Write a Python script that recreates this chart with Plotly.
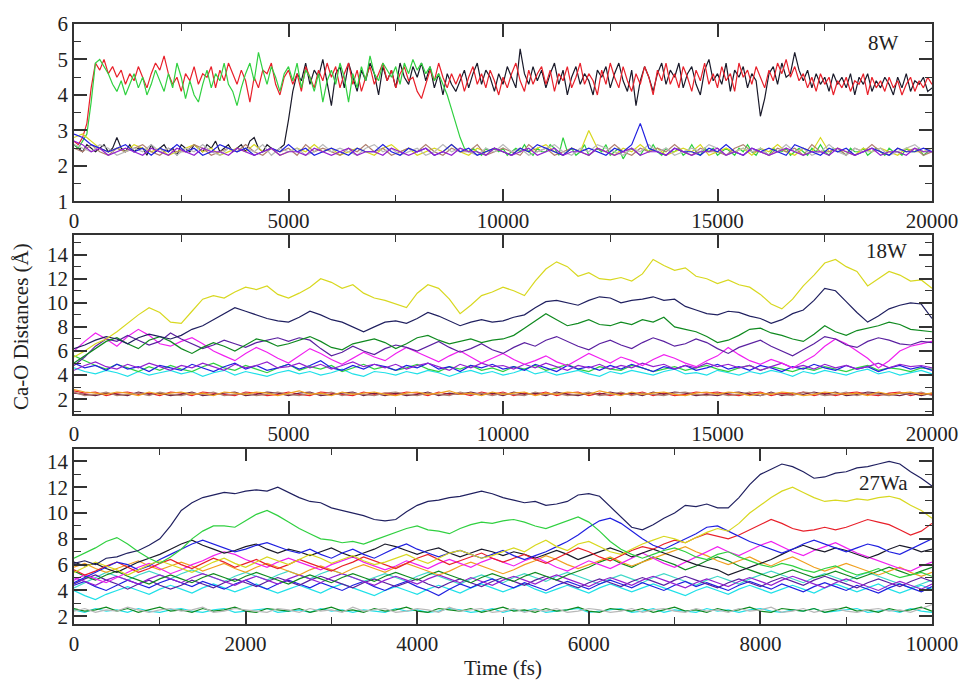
import plotly.graph_objects as go

# ---------------- time grids (fs) ----------------
t1_fine = list(range(0, 20001, 100))
t1_coarse = list(range(0, 20001, 200))
t2 = list(range(0, 20001, 250))
t3 = list(range(0, 10001, 125))

# ---------------- Panel 1: 8W ----------------
p1_black = [2.6,2.5,2.4,2.6,2.5,2.4,2.5,2.6,2.4,2.5,
            2.8,2.5,2.4,2.6,2.4,2.5,2.5,2.3,2.6,2.4,
            2.5,2.6,2.4,2.5,2.3,2.6,2.5,2.4,2.6,2.5,
            2.4,2.6,2.5,2.7,2.4,2.5,2.6,2.4,2.5,2.6,
            2.4,2.7,2.8,2.5,2.4,2.6,2.5,2.4,2.5,2.6,
            3.3,4.1,4.6,4.4,4.9,4.3,4.7,4.5,5.0,4.4,
            3.7,4.6,4.8,4.2,4.9,4.5,4.1,4.7,4.4,4.9,
            4.6,4.0,4.8,4.4,4.7,4.2,4.9,4.5,4.3,4.8,
            4.5,4.9,4.4,4.8,4.2,4.6,4.0,4.6,4.3,4.1,
            4.4,4.7,4.2,4.6,4.9,4.3,4.7,4.5,4.1,4.6,
            4.3,4.8,4.5,4.2,5.3,4.6,4.3,4.8,4.4,4.7,
            4.2,4.6,4.9,4.3,4.7,4.0,4.5,4.8,4.3,4.6,
            4.4,4.0,4.7,4.5,4.8,4.2,4.6,4.9,4.4,4.1,
            4.7,3.7,4.4,4.8,4.5,4.1,4.6,4.9,4.3,4.7,
            4.5,4.9,4.2,4.6,4.8,4.3,4.0,4.7,5.0,4.4,
            4.6,4.3,4.9,4.1,4.7,4.5,4.8,4.2,4.6,4.4,
            3.4,3.9,4.6,4.8,4.3,4.9,4.5,4.6,5.2,4.7,
            4.4,4.7,4.2,4.6,4.3,4.5,4.1,4.6,4.3,4.5,
            4.2,4.6,4.0,4.5,4.3,4.6,4.1,4.4,4.2,4.5,
            4.3,4.0,4.5,4.2,4.6,4.1,4.4,4.3,4.5,4.1,4.2]
p1_red = [2.7,2.6,2.8,3.2,4.2,4.9,4.7,5.0,4.6,4.8,
          4.5,4.7,4.3,4.6,4.4,4.8,4.5,4.2,4.6,4.9,
          4.7,5.1,4.6,4.3,4.5,4.1,4.6,4.4,4.8,4.3,
          4.6,4.5,4.8,4.2,4.7,4.4,4.9,4.6,4.3,4.7,
          4.4,3.8,4.5,4.2,4.7,4.6,4.9,4.3,4.0,4.5,
          4.7,4.3,4.6,4.1,4.8,4.5,4.2,4.7,4.4,4.9,
          4.5,4.8,4.2,4.6,4.9,4.3,4.7,4.1,4.5,4.8,
          4.3,4.6,4.9,4.4,4.7,4.2,4.6,4.8,4.4,4.5,
          4.1,3.9,4.3,4.7,4.4,4.9,4.5,4.2,4.6,4.3,
          4.6,4.1,4.5,4.8,4.3,4.6,4.2,4.7,4.4,4.0,
          4.5,4.2,4.6,4.9,4.4,4.1,4.7,4.3,4.6,4.8,
          4.3,4.7,4.1,4.6,4.4,4.8,4.2,4.5,4.9,4.3,
          4.6,4.4,4.0,4.7,4.3,4.9,4.5,4.2,4.8,4.4,
          4.1,4.6,4.3,4.8,4.5,4.0,4.7,4.4,4.9,4.3,
          4.6,4.2,4.8,4.5,4.1,4.7,4.4,4.9,4.3,4.6,
          4.2,4.8,4.4,4.6,4.1,4.9,4.5,4.7,4.3,4.8,
          4.5,4.2,4.7,4.4,4.9,4.6,5.0,4.5,4.8,4.4,
          4.6,4.2,4.5,4.1,4.6,4.3,4.5,4.0,4.4,4.2,
          4.5,4.1,4.4,4.3,4.6,4.0,4.5,4.2,4.4,4.1,
          4.5,4.2,4.4,4.0,4.3,4.5,4.1,4.4,4.2,4.5,4.3]
p1_green = [2.6,2.5,2.7,2.9,3.8,4.9,5.0,4.8,4.6,4.3,
            4.1,4.4,4.0,4.3,4.6,4.2,4.5,4.0,4.3,4.7,
            4.4,4.1,4.6,4.2,4.9,4.5,3.9,4.4,4.0,3.8,
            4.3,4.7,4.2,4.6,4.4,4.9,4.3,4.1,3.7,4.2,
            4.6,4.9,4.4,5.2,4.7,4.3,4.8,4.5,4.1,4.6,
            4.8,4.4,4.9,4.2,4.7,4.5,4.1,4.6,3.8,4.4,
            4.7,4.3,4.9,4.5,3.8,4.6,4.2,4.8,4.4,5.1,
            4.6,4.4,4.9,4.7,4.5,4.8,4.3,4.9,4.6,5.0,
            4.7,4.9,4.6,4.8,4.4,4.6,4.3,4.0,3.6,3.2,
            2.8,2.5,2.4,2.5,2.4,2.3,2.5,2.4,2.5,2.4,
            2.5,2.3,2.4,2.5,2.4,2.6,2.4,2.3,2.5,2.4,
            2.4,2.6,2.5,2.3,2.8,2.4,2.5,2.3,2.4,2.6,
            2.3,2.4,2.5,2.4,2.6,2.3,2.4,2.5,2.2,2.4,
            2.5,2.4,2.3,2.5,2.4,2.6,2.4,2.3,2.5,2.4,
            2.4,2.5,2.3,2.4,2.6,2.4,2.3,2.5,2.4,2.5,
            2.3,2.4,2.5,2.4,2.3,2.5,2.4,2.6,2.4,2.3,
            2.5,2.4,2.3,2.5,2.4,2.4,2.5,2.3,2.4,2.5,
            2.4,2.3,2.5,2.4,2.6,2.4,2.3,2.5,2.4,2.4,
            2.3,2.5,2.4,2.4,2.5,2.3,2.4,2.5,2.4,2.3,
            2.5,2.4,2.4,2.3,2.5,2.4,2.4,2.5,2.3,2.4,2.4]
p1_blue = [2.9,2.8,2.6,2.5,2.4,2.5,2.6,2.4,2.5,2.3,
           2.5,2.4,2.6,2.4,2.5,2.3,2.4,2.6,2.5,2.4,
           2.5,2.3,2.4,2.5,2.4,2.6,2.4,2.5,2.3,2.4,
           2.5,2.4,2.3,2.5,2.4,2.4,2.6,2.4,2.3,2.5,
           2.4,2.5,2.3,2.4,2.6,2.4,2.5,2.3,2.4,2.5,
           2.4,2.3,2.5,2.4,2.6,2.5,2.4,2.3,2.5,2.4,
           2.5,2.4,2.3,2.5,2.4,2.6,3.2,2.5,2.4,2.3,
           2.5,2.4,2.4,2.3,2.5,2.4,2.6,2.4,2.3,2.5,
           2.4,2.5,2.4,2.3,2.6,2.5,2.4,2.3,2.5,2.4,
           2.5,2.3,2.4,2.5,2.4,2.3,2.5,2.4,2.4,2.5,2.4]
p1_yellow = [2.8,2.9,2.7,2.5,2.4,2.5,2.4,2.6,2.5,2.4,
             2.5,2.3,2.4,2.5,2.6,2.4,2.5,2.3,2.4,2.5,
             2.4,2.6,2.4,2.5,2.3,2.4,2.5,2.4,2.6,2.4,
             2.5,2.3,2.4,2.5,2.4,2.3,2.5,2.6,2.4,2.5,
             2.3,2.4,2.5,2.4,2.6,2.4,2.3,2.5,2.4,2.5,
             2.4,2.3,2.5,2.4,2.5,2.6,2.4,2.3,2.5,2.4,
             3.0,2.5,2.4,2.3,2.5,2.4,2.6,2.4,2.5,2.3,
             2.4,2.5,2.4,2.6,2.3,2.4,2.5,2.4,2.5,2.3,
             2.5,2.4,2.6,2.4,2.3,2.5,2.4,2.8,2.4,2.5,
             2.4,2.3,2.5,2.4,2.5,2.4,2.3,2.5,2.4,2.4,2.5]
p1_brown = [2.5,2.4,2.6,2.4,2.3,2.5,2.4,2.5,2.6,2.4,
            2.3,2.5,2.4,2.4,2.6,2.5,2.3,2.4,2.5,2.4,
            2.6,2.4,2.3,2.5,2.4,2.5,2.3,2.6,2.4,2.5,
            2.4,2.3,2.5,2.4,2.6,2.4,2.5,2.3,2.4,2.5,
            2.4,2.6,2.4,2.3,2.5,2.4,2.4,2.6,2.3,2.4,
            2.5,2.4,2.3,2.6,2.4,2.5,2.3,2.4,2.5,2.4,
            2.3,2.5,2.4,2.6,2.4,2.3,2.5,2.4,2.5,2.4,
            2.6,2.4,2.3,2.5,2.4,2.4,2.3,2.5,2.6,2.4,
            2.4,2.3,2.5,2.4,2.5,2.3,2.6,2.4,2.4,2.5,
            2.3,2.5,2.4,2.6,2.4,2.3,2.5,2.4,2.5,2.3,2.4]
p1_grey = [2.6,2.5,2.4,2.6,2.5,2.3,2.4,2.5,2.4,2.6,
           2.4,2.5,2.3,2.5,2.4,2.6,2.4,2.3,2.5,2.4,
           2.5,2.4,2.6,2.3,2.5,2.4,2.5,2.3,2.4,2.6,
           2.4,2.5,2.4,2.3,2.5,2.6,2.4,2.5,2.3,2.4,
           2.5,2.3,2.4,2.6,2.4,2.5,2.4,2.3,2.5,2.4,
           2.6,2.4,2.5,2.3,2.4,2.5,2.6,2.4,2.3,2.5,
           2.4,2.6,2.5,2.4,2.3,2.5,2.4,2.6,2.4,2.5,
           2.3,2.4,2.5,2.4,2.6,2.5,2.3,2.4,2.5,2.4,
           2.5,2.3,2.4,2.6,2.4,2.5,2.3,2.4,2.6,2.4,
           2.3,2.5,2.4,2.4,2.5,2.3,2.4,2.5,2.6,2.4,2.5]
p1_violet = [2.7,2.6,2.4,2.5,2.3,2.4,2.5,2.4,2.3,2.5,
             2.4,2.3,2.5,2.4,2.3,2.5,2.4,2.4,2.3,2.5,
             2.4,2.3,2.4,2.5,2.3,2.4,2.4,2.3,2.5,2.4,
             2.3,2.4,2.5,2.3,2.4,2.4,2.3,2.5,2.4,2.3,
             2.4,2.5,2.3,2.4,2.3,2.5,2.4,2.4,2.3,2.5,
             2.4,2.3,2.4,2.5,2.3,2.4,2.5,2.3,2.4,2.4,
             2.3,2.5,2.4,2.3,2.4,2.5,2.3,2.4,2.4,2.3,
             2.5,2.4,2.3,2.4,2.4,2.5,2.3,2.4,2.3,2.5,
             2.4,2.3,2.4,2.5,2.4,2.3,2.4,2.4,2.3,2.5,
             2.4,2.3,2.4,2.5,2.3,2.4,2.4,2.3,2.5,2.4,2.4]

# ---------------- Panel 2: 18W ----------------
p2_yellow = [5.5,6.0,6.6,7.0,7.6,8.3,9.0,9.6,9.2,8.4,
             8.3,9.3,10.3,10.6,10.4,10.9,11.3,11.1,11.4,10.7,
             10.4,10.8,11.3,12.0,11.7,11.2,11.5,10.8,10.4,10.2,
             9.9,9.6,10.8,11.5,11.2,10.3,9.1,9.8,10.6,10.9,
             11.3,11.0,10.6,11.8,12.8,13.4,13.0,12.2,12.5,12.0,
             11.9,12.1,11.8,12.4,13.6,13.1,12.7,12.9,12.2,12.0,
             11.6,11.9,11.5,11.3,10.7,9.9,9.5,10.3,11.4,12.3,
             13.3,13.6,13.0,12.6,11.4,12.0,12.6,12.3,11.8,11.9,
             11.2]
p2_black = [6.2,6.5,6.9,7.2,7.0,6.6,7.1,7.4,7.2,7.0,
            7.3,7.8,8.1,8.6,9.1,9.6,9.3,9.0,8.7,8.5,
            8.4,8.8,9.3,9.0,8.6,8.4,8.0,7.6,8.0,8.4,
            8.5,8.3,8.7,9.2,8.9,8.5,8.1,8.4,8.6,8.4,
            8.5,8.8,9.0,9.6,10.1,10.2,10.0,9.8,10.2,10.5,
            10.4,10.0,10.2,10.3,10.5,10.2,10.3,9.7,9.4,9.1,
            9.0,9.3,9.2,8.9,8.7,8.3,8.6,9.1,9.4,10.2,
            11.2,11.0,10.1,9.2,8.4,8.9,9.5,9.8,10.0,9.9,
            8.7]
p2_green4 = [5.0,5.6,6.2,6.8,7.1,6.6,6.2,6.9,7.2,6.8,
             6.2,5.8,6.3,6.7,6.4,6.0,6.5,7.0,6.8,6.4,
             6.6,6.9,7.2,6.8,6.3,6.1,6.6,6.8,7.0,6.7,
             6.2,6.6,7.1,7.3,6.9,6.6,6.8,7.0,6.7,6.9,
             7.0,7.3,7.9,8.5,9.1,8.6,8.1,8.3,8.6,8.2,
             8.1,8.4,8.2,8.6,8.4,8.8,8.0,7.8,7.6,7.2,
             6.7,6.9,7.3,7.8,7.9,7.5,7.3,7.0,6.8,7.4,
             8.1,7.6,7.3,7.7,7.9,8.1,8.4,8.2,7.8,7.7,
             7.6]
p2_indigo = [4.8,5.5,6.4,7.0,6.8,7.3,6.9,6.5,6.8,7.5,
             7.0,6.6,6.2,6.5,6.9,6.6,6.3,6.7,6.9,7.1,
             6.8,7.1,6.9,6.2,5.6,5.9,6.4,6.0,5.7,6.2,
             6.5,6.3,6.0,6.4,6.8,6.3,5.9,6.2,6.6,6.1,
             5.8,6.3,6.7,6.4,6.9,7.2,6.8,6.4,6.1,6.6,
             6.9,6.5,6.2,6.7,7.1,6.8,6.4,6.6,7.0,6.7,
             6.2,5.8,6.3,6.6,6.9,6.4,6.0,5.6,6.1,6.6,
             7.2,7.0,6.5,6.3,6.8,7.1,6.9,6.6,6.5,6.8,
             6.7]
p2_magenta = [6.0,6.8,7.5,7.0,6.4,7.2,7.8,7.3,6.6,6.4,
              6.8,7.1,6.6,6.0,5.6,5.2,5.8,6.3,5.9,5.4,
              5.0,5.6,6.2,5.8,5.3,4.9,5.4,5.9,5.5,5.2,
              5.8,6.3,5.9,5.5,5.1,5.6,6.0,5.5,5.0,5.4,
              5.8,5.3,4.9,5.2,5.6,5.1,4.8,5.3,5.8,5.4,
              5.0,5.5,5.2,4.8,5.3,5.7,5.4,5.0,4.7,5.2,
              5.6,6.3,5.7,5.2,4.9,5.3,5.0,4.6,5.1,5.6,
              6.4,7.0,6.6,6.0,5.4,4.6,5.2,6.0,6.4,6.6,
              6.8]
p2_blue = [5.0,4.6,4.8,4.4,4.9,4.5,4.7,4.3,4.8,4.6,
           4.4,4.9,4.6,4.3,4.7,5.0,4.5,4.8,4.4,4.6,
           4.9,4.5,4.8,5.2,4.6,4.4,4.8,4.5,4.9,4.7,
           4.4,4.8,4.6,5.0,4.5,4.7,4.3,4.8,4.6,4.9,
           4.5,4.7,4.4,4.9,4.6,4.3,4.8,4.5,4.7,4.4,
           4.8,4.5,4.9,4.6,4.3,4.7,4.5,4.8,4.4,4.6,
           4.9,4.5,4.7,4.4,4.8,4.6,4.3,4.7,4.5,4.9,
           4.6,4.4,4.8,4.5,4.7,4.3,4.6,4.8,4.5,4.7,
           4.4]
p2_cyan = [4.6,4.3,4.1,4.4,4.2,3.9,4.3,4.0,4.2,4.4,
           4.1,4.3,3.9,4.2,4.4,4.0,4.3,4.1,3.9,4.2,
           4.4,4.1,4.3,4.0,4.2,4.5,4.1,3.9,4.3,4.2,
           4.0,4.3,4.1,4.4,4.2,3.9,4.2,4.4,4.1,4.3,
           4.0,4.2,4.5,4.1,4.3,4.0,4.2,4.4,4.1,3.9,
           4.3,4.1,4.4,4.2,4.0,4.3,4.5,4.1,4.2,4.0,
           4.4,4.2,4.0,4.3,4.1,4.4,4.2,3.9,4.3,4.1,
           4.4,4.2,4.0,4.3,4.5,4.1,4.3,4.0,4.2,4.4,
           4.1]
p2_violet = [4.4,4.8,5.1,4.7,4.5,4.9,4.6,5.0,4.7,4.4,
             4.8,4.6,5.0,4.7,4.4,4.9,4.6,4.8,5.1,4.6,
             4.7,5.0,4.6,4.9,4.5,4.8,5.1,4.7,4.9,4.6,
             4.9,4.5,4.8,5.0,4.7,4.4,4.9,4.6,5.0,4.7,
             4.8,4.5,4.9,4.6,5.0,4.7,4.4,4.8,4.6,4.9,
             4.5,4.8,4.6,5.0,4.7,4.9,4.5,4.8,4.6,5.0,
             4.7,4.9,4.6,4.8,4.4,4.7,5.0,4.6,4.8,4.5,
             4.9,4.6,4.8,4.5,4.7,5.0,4.6,4.9,4.7,4.8,
             4.6]
p2_green = [5.6,5.2,4.8,4.5,4.9,4.6,4.3,4.7,4.4,4.8,
            4.5,4.3,4.7,5.0,4.6,4.4,4.8,4.5,4.2,4.6,
            4.9,4.4,4.7,4.5,4.8,4.3,4.6,4.9,4.5,4.7,
            4.4,4.6,4.9,4.5,4.3,4.7,4.5,4.8,4.4,4.6,
            4.3,4.7,4.5,4.8,4.4,4.6,4.9,4.5,4.3,4.7,
            4.5,4.4,4.8,4.6,4.3,4.5,4.7,4.4,4.6,4.8,
            4.5,4.3,4.6,4.8,4.4,4.7,4.5,4.3,4.6,4.4,
            4.7,4.5,4.3,4.6,4.8,4.4,4.6,4.5,4.3,4.6,
            4.5]
p2_orange = [2.8,2.6,2.5,2.4,2.6,2.5,2.3,2.6,2.4,2.5,
             2.6,2.4,2.5,2.3,2.6,2.5,2.4,2.6,2.5,2.3,
             2.5,2.7,2.4,2.5,2.3,2.6,2.4,2.5,2.6,2.4,
             2.3,2.5,2.6,2.4,2.5,2.7,2.4,2.5,2.3,2.6,
             2.4,2.5,2.6,2.3,2.5,2.4,2.6,2.5,2.4,2.7,
             2.5,2.3,2.6,2.4,2.5,2.6,2.4,2.3,2.5,2.6,
             2.4,2.6,2.5,2.3,2.5,2.4,2.6,2.5,2.3,2.4,
             2.6,2.5,2.4,2.5,2.3,2.6,2.4,2.5,2.6,2.4,
             2.5]
p2_brown = [2.6,2.3,2.4,2.6,2.3,2.4,2.5,2.3,2.6,2.4,
            2.3,2.5,2.4,2.6,2.3,2.4,2.5,2.3,2.4,2.6,
            2.4,2.3,2.5,2.4,2.6,2.3,2.5,2.4,2.3,2.5,
            2.6,2.4,2.3,2.5,2.4,2.3,2.6,2.4,2.5,2.3,
            2.5,2.4,2.3,2.6,2.4,2.5,2.3,2.4,2.6,2.3,
            2.4,2.6,2.3,2.5,2.4,2.3,2.5,2.6,2.4,2.3,
            2.5,2.3,2.4,2.6,2.3,2.5,2.4,2.3,2.6,2.5,
            2.3,2.4,2.6,2.3,2.5,2.4,2.3,2.5,2.4,2.6,
            2.3]
p2_red = [2.7,2.5,2.6,2.3,2.5,2.6,2.4,2.5,2.3,2.6,
          2.5,2.3,2.6,2.5,2.4,2.3,2.6,2.5,2.3,2.4,
          2.6,2.4,2.3,2.6,2.5,2.4,2.3,2.6,2.4,2.5,
          2.4,2.6,2.5,2.3,2.6,2.4,2.5,2.3,2.6,2.4,
          2.6,2.3,2.5,2.4,2.6,2.3,2.5,2.6,2.3,2.5,
          2.3,2.5,2.4,2.6,2.3,2.5,2.3,2.4,2.6,2.5,
          2.6,2.4,2.3,2.5,2.6,2.3,2.5,2.4,2.6,2.3,
          2.5,2.3,2.5,2.6,2.4,2.3,2.5,2.6,2.3,2.5,
          2.4]
p2_maroon = [2.5,2.4,2.3,2.5,2.4,2.3,2.6,2.4,2.5,2.3,
             2.4,2.6,2.3,2.4,2.5,2.6,2.3,2.4,2.6,2.5,
             2.3,2.5,2.6,2.3,2.4,2.5,2.6,2.3,2.5,2.3,
             2.5,2.3,2.4,2.6,2.3,2.5,2.4,2.6,2.4,2.5,
             2.3,2.6,2.4,2.5,2.3,2.6,2.4,2.3,2.5,2.4,
             2.6,2.4,2.5,2.3,2.6,2.4,2.6,2.5,2.3,2.4,
             2.3,2.5,2.6,2.4,2.3,2.6,2.3,2.5,2.4,2.6,
             2.4,2.6,2.3,2.4,2.6,2.5,2.4,2.3,2.5,2.3,
             2.5]

# ---------------- Panel 3: 27Wa ----------------
p3_navy = [6.1,6.3,6.0,6.5,6.6,6.9,7.1,7.5,8.0,9.0,
           10.2,10.8,11.2,11.4,11.6,11.5,11.7,11.8,11.7,12.0,
           11.6,11.2,10.9,10.8,10.4,10.2,10.0,9.8,9.5,9.4,
           9.5,10.1,10.6,10.9,11.0,11.2,11.3,11.5,11.7,11.5,
           11.2,11.0,10.8,10.9,10.6,10.7,10.9,11.4,11.5,11.3,
           10.5,9.7,8.9,8.7,9.1,9.6,10.0,10.6,10.5,10.7,
           10.4,10.4,11.2,12.2,13.0,13.4,13.8,13.6,13.2,12.7,
           12.8,13.1,13.2,13.5,13.6,13.8,14.0,13.8,13.2,12.7,
           12.1]
p3_green = [6.5,6.9,7.3,7.8,8.1,7.6,7.0,6.5,6.1,6.6,
            7.2,8.0,8.6,9.0,9.0,8.9,9.4,9.9,10.2,9.8,
            9.3,8.8,8.4,8.0,7.9,7.7,7.8,7.6,7.9,8.2,
            8.5,8.8,9.0,8.7,8.6,8.4,8.8,9.1,9.3,9.2,
            9.4,9.5,9.3,9.0,8.8,9.1,9.4,9.7,9.3,8.6,
            7.8,7.2,6.8,6.5,6.8,7.1,7.3,7.0,6.6,6.4,
            6.8,7.0,6.6,6.3,6.0,5.8,6.1,5.9,5.6,5.4,
            5.7,5.9,5.5,5.2,5.4,5.7,5.3,5.0,5.2,5.4,
            5.1]
p3_yellow = [5.4,5.8,6.2,5.9,5.6,5.2,5.6,6.0,6.3,6.0,
             5.7,5.4,5.8,6.2,6.5,6.1,5.8,6.2,6.6,6.3,
             6.0,6.4,6.8,6.5,6.1,6.4,6.7,6.3,6.0,6.2,
             6.5,6.8,6.4,6.1,6.5,6.9,7.1,6.8,6.5,6.7,
             7.0,7.3,7.0,7.5,7.9,7.4,7.1,7.6,7.8,7.4,
             7.0,6.8,7.2,7.6,7.9,8.2,8.0,7.7,8.1,8.5,
             8.8,8.6,9.2,10.0,10.6,11.2,11.7,12.0,11.6,11.2,
             10.9,11.0,10.9,11.1,11.0,11.2,11.3,11.1,10.6,10.2,
             9.6]
p3_red = [5.6,5.2,5.5,5.9,6.2,5.8,5.4,5.7,6.1,6.4,
          6.0,5.7,6.1,6.5,6.2,5.8,6.1,6.4,6.0,5.7,
          6.0,6.4,6.1,5.8,5.5,5.9,6.2,6.6,6.3,6.0,
          5.7,6.1,6.5,6.8,6.4,6.0,6.3,6.6,6.9,6.5,
          6.2,6.5,6.8,6.4,6.1,6.5,6.9,7.3,7.0,6.6,
          6.3,6.7,7.1,7.4,7.2,7.6,7.9,7.7,8.1,8.4,
          8.2,8.0,8.3,8.7,9.1,9.5,9.2,8.8,8.6,8.7,
          8.9,8.7,8.9,9.2,9.5,9.3,9.1,8.7,8.3,8.6,
          9.2]
p3_blue2 = [4.6,5.0,5.4,5.8,6.2,6.0,5.6,5.9,6.4,6.8,
            7.2,7.6,7.9,7.6,7.3,7.0,7.2,7.5,7.7,7.4,
            7.1,6.9,7.2,6.8,6.5,6.9,7.2,6.8,6.5,6.9,
            7.3,7.6,7.2,6.9,6.6,6.9,7.1,6.8,6.5,6.8,
            7.1,6.7,6.4,6.7,7.0,7.4,7.8,8.3,8.9,9.4,
            9.6,9.2,8.6,8.0,7.5,7.2,7.6,8.0,8.4,8.9,
            9.0,8.6,8.2,7.8,7.5,7.2,6.9,7.2,7.6,7.9,
            7.6,7.3,7.0,7.3,7.6,7.4,7.0,6.8,7.2,7.6,
            8.0]
p3_black = [6.2,5.9,6.1,5.7,5.4,5.8,6.2,6.5,6.8,7.2,
            7.6,7.9,7.5,7.2,6.9,7.1,7.4,7.6,7.2,6.9,
            7.2,7.0,6.7,7.0,7.3,6.9,6.6,6.9,7.2,7.6,
            7.4,7.1,6.8,7.1,7.3,6.9,6.6,6.9,7.2,7.0,
            6.7,7.0,6.8,6.5,6.8,7.1,6.8,6.4,6.7,7.0,
            7.3,7.0,6.6,6.9,7.2,6.9,6.6,6.3,6.0,5.8,
            5.6,5.2,5.5,5.8,6.1,6.4,6.8,7.2,7.5,7.2,
            7.0,7.3,7.1,6.8,6.5,6.8,7.2,7.5,7.3,7.0,
            7.2]
p3_magenta = [4.8,5.2,4.9,4.6,5.0,5.4,5.8,6.1,5.7,5.3,
              5.6,6.0,6.3,6.7,7.0,6.8,6.4,6.1,5.8,6.2,
              6.5,6.2,5.9,5.6,6.0,6.3,6.6,6.2,5.9,5.6,
              5.9,6.3,6.0,5.7,6.1,6.4,6.1,5.8,6.2,6.5,
              6.2,5.9,6.3,6.6,6.2,5.8,5.5,5.9,6.3,6.0,
              5.7,6.1,6.5,6.9,6.5,6.1,5.8,6.2,6.6,7.0,
              7.4,7.0,6.7,7.1,7.5,7.8,7.4,7.0,6.7,7.1,
              7.4,7.7,7.3,6.9,6.6,6.3,6.0,5.7,5.5,5.9,
              6.2]
p3_orange = [5.8,6.1,5.7,5.4,5.7,6.0,6.3,5.9,5.6,5.9,
             6.2,5.9,5.5,5.8,6.1,5.7,5.4,5.8,6.1,5.8,
             5.5,5.2,5.6,5.9,5.6,5.3,5.7,6.0,5.7,5.4,
             5.8,6.1,5.8,5.5,5.2,5.5,5.9,6.2,5.9,5.6,
             5.3,5.6,6.0,6.3,6.7,6.4,6.0,5.7,6.0,6.3,
             6.6,6.2,5.9,6.2,6.5,6.8,7.1,7.4,7.0,6.7,
             6.3,6.0,6.3,6.6,6.2,5.9,6.3,6.6,6.2,5.8,
             5.5,5.8,6.1,5.8,5.5,5.2,5.5,5.8,5.4,5.1,
             5.4]
p3_violet = [5.0,4.7,4.4,4.8,5.1,4.8,4.5,4.9,5.2,4.9,
             4.6,5.0,5.3,5.0,4.7,4.4,4.8,5.1,4.8,4.5,
             4.9,5.2,4.9,4.6,5.0,5.3,5.0,4.7,4.4,4.8,
             5.1,4.8,4.5,4.9,5.2,4.9,4.6,5.0,4.7,4.4,
             4.8,5.1,4.8,4.5,4.9,5.2,4.9,4.6,4.3,4.7,
             5.0,4.7,4.4,4.8,5.1,4.8,4.5,4.2,4.6,4.9,
             4.6,4.3,4.7,5.0,4.7,4.4,4.8,5.1,4.8,4.5,
             4.2,4.6,4.9,4.6,4.3,4.0,4.4,4.7,4.4,4.1,
             4.5]
p3_blue = [4.4,4.7,4.3,4.0,4.4,4.8,4.5,4.2,4.6,4.9,
           4.6,4.3,4.7,4.4,4.1,4.5,4.8,4.4,4.1,4.5,
           4.8,4.5,4.2,4.6,4.3,4.0,4.4,4.7,4.3,4.0,
           4.4,4.7,4.3,4.0,3.6,4.1,4.5,4.2,4.6,4.9,
           4.5,4.2,4.6,4.3,4.0,4.4,4.7,4.4,4.1,4.5,
           4.8,4.5,4.2,4.6,4.3,4.0,4.4,4.7,4.3,4.6,
           4.3,4.0,4.4,4.7,4.4,4.1,4.5,4.2,3.9,4.3,
           4.6,4.3,4.0,4.4,4.1,3.8,4.2,4.5,4.2,3.9,
           4.3]
p3_cyan = [4.0,3.6,3.3,3.7,4.0,4.3,4.0,3.7,4.1,4.4,
           4.1,3.8,4.2,4.5,4.2,3.9,4.2,4.5,4.1,3.8,
           4.1,4.4,4.1,3.8,4.2,4.5,4.2,3.9,3.6,4.0,
           4.3,4.0,3.7,4.1,4.4,4.1,3.8,4.2,4.5,4.2,
           3.9,4.2,4.5,4.1,3.8,4.1,4.4,4.1,3.8,4.2,
           4.5,4.2,3.9,4.2,4.5,4.2,3.9,3.6,4.0,4.3,
           4.0,3.7,4.1,4.4,4.1,3.8,4.1,4.4,4.1,3.8,
           4.2,4.5,4.2,3.9,4.2,4.5,4.1,3.8,4.1,4.4,
           4.1]
p3_green4 = [5.5,5.1,4.8,5.2,5.5,5.1,4.8,4.5,4.9,5.2,
             4.9,4.6,5.0,5.3,5.0,4.7,5.1,5.4,5.1,4.8,
             4.5,4.9,5.2,4.9,4.6,5.0,5.3,5.0,4.7,5.1,
             5.4,5.1,4.8,5.2,5.5,5.2,4.9,4.6,5.0,5.3,
             5.0,4.7,5.1,5.4,5.1,4.8,5.2,5.5,5.8,6.2,
             6.5,6.1,5.8,6.2,6.6,6.3,6.0,5.6,5.9,6.3,
             6.6,6.3,5.9,5.6,5.3,5.0,5.3,5.6,5.3,5.0,
             5.2,5.5,5.2,4.9,5.2,5.5,5.8,5.5,5.2,5.5,
             5.8]
p3_indigo = [4.5,4.9,5.2,4.8,4.5,4.1,4.5,4.8,4.4,4.1,
             4.4,4.8,4.5,4.2,4.6,4.9,4.6,4.3,4.7,5.0,
             4.7,4.4,4.8,5.1,4.8,4.5,4.2,4.6,4.9,4.6,
             4.3,4.6,4.9,4.5,4.2,4.6,4.9,4.6,4.3,4.7,
             5.0,4.7,4.4,4.8,5.1,4.8,4.5,4.2,4.6,4.9,
             4.6,4.3,4.7,5.0,4.7,4.4,4.8,5.1,4.8,4.5,
             4.2,4.6,4.9,4.6,4.3,4.7,5.0,4.7,4.4,4.8,
             5.1,4.8,4.5,4.2,4.6,4.9,4.6,4.3,4.7,5.0,
             4.7]
p3_turquoise = [4.2,4.6,5.0,5.4,5.1,4.8,5.2,5.5,5.2,4.9,
                5.3,5.6,5.3,5.0,4.7,5.1,5.4,5.1,4.8,5.2,
                5.5,5.2,4.9,5.3,5.6,5.3,5.0,4.7,5.0,5.3,
                5.0,4.7,5.1,5.4,5.1,4.8,4.5,4.9,5.2,4.9,
                4.6,5.0,5.3,5.0,4.7,5.1,5.4,5.1,4.8,4.5,
                4.9,5.2,4.9,4.6,5.0,5.3,5.0,4.7,4.4,4.8,
                5.1,4.8,4.5,4.9,5.2,5.5,5.2,4.9,4.6,5.0,
                5.3,5.0,4.7,5.1,5.4,5.1,4.8,4.5,4.2,4.5,
                4.8]
p3_lowgreen = [2.6,2.4,2.5,2.7,2.4,2.6,2.3,2.5,2.7,2.4,
               2.5,2.3,2.6,2.4,2.5,2.7,2.4,2.3,2.6,2.5,
               2.4,2.6,2.3,2.5,2.7,2.4,2.5,2.3,2.6,2.4,
               2.5,2.7,2.4,2.3,2.6,2.5,2.4,2.6,2.3,2.5,
               2.7,2.4,2.5,2.3,2.6,2.4,2.5,2.7,2.4,2.3,
               2.6,2.5,2.4,2.6,2.3,2.5,2.7,2.4,2.5,2.3,
               2.6,2.4,2.5,2.7,2.4,2.3,2.6,2.5,2.4,2.6,
               2.3,2.5,2.7,2.4,2.5,2.3,2.6,2.4,2.5,2.7,
               2.4]
p3_lowblack = [2.4,2.6,2.3,2.5,2.4,2.7,2.5,2.3,2.5,2.6,
               2.4,2.5,2.7,2.3,2.4,2.6,2.5,2.4,2.3,2.6,
               2.5,2.3,2.6,2.4,2.5,2.3,2.7,2.4,2.5,2.6,
               2.3,2.4,2.6,2.5,2.3,2.7,2.4,2.5,2.6,2.3,
               2.4,2.6,2.3,2.5,2.4,2.6,2.3,2.4,2.6,2.5,
               2.3,2.4,2.6,2.3,2.5,2.6,2.4,2.3,2.6,2.4,
               2.5,2.3,2.6,2.4,2.5,2.7,2.3,2.4,2.6,2.3,
               2.5,2.6,2.4,2.3,2.5,2.6,2.4,2.5,2.3,2.6,
               2.9]
p3_lowcyan = [2.5,2.3,2.6,2.4,2.5,2.3,2.6,2.4,2.3,2.5,
              2.6,2.4,2.3,2.5,2.6,2.3,2.4,2.5,2.6,2.3,
              2.4,2.5,2.3,2.6,2.4,2.5,2.3,2.5,2.4,2.3,
              2.6,2.4,2.5,2.3,2.4,2.6,2.5,2.3,2.4,2.6,
              2.3,2.5,2.4,2.6,2.3,2.4,2.5,2.6,2.3,2.4,
              2.5,2.6,2.3,2.4,2.6,2.3,2.5,2.4,2.3,2.6,
              2.4,2.5,2.3,2.5,2.6,2.4,2.3,2.5,2.4,2.6,
              2.3,2.4,2.5,2.6,2.3,2.4,2.5,2.3,2.6,2.4,
              2.3]

# ---------------- colours (xmgrace palette, slightly softened) ----------------
C = {
    "black": "#1a1a2a", "red": "#e8202a", "green": "#30d040", "blue": "#2020e0",
    "yellow": "#d8d820", "brown": "#b08070", "grey": "#b8b8b8", "violet": "#9420d0",
    "cyan": "#20e0e8", "magenta": "#f020f0", "orange": "#f0a020", "indigo": "#5a20a0",
    "maroon": "#702040", "turquoise": "#40d8c8", "green4": "#108a20", "navy": "#202060",
}

panel1 = [
    (t1_fine, p1_black, "black"), (t1_fine, p1_red, "red"), (t1_fine, p1_green, "green"),
    (t1_coarse, p1_yellow, "yellow"), (t1_coarse, p1_brown, "brown"),
    (t1_coarse, p1_grey, "grey"), (t1_coarse, p1_blue, "blue"), (t1_coarse, p1_violet, "violet"),
]
panel2 = [
    (t2, p2_red, "red"), (t2, p2_maroon, "maroon"), (t2, p2_brown, "brown"), (t2, p2_orange, "orange"),
    (t2, p2_cyan, "cyan"), (t2, p2_green, "green"), (t2, p2_blue, "blue"), (t2, p2_violet, "violet"),
    (t2, p2_magenta, "magenta"), (t2, p2_indigo, "indigo"), (t2, p2_green4, "green4"),
    (t2, p2_black, "navy"), (t2, p2_yellow, "yellow"),
]
panel3 = [
    (t3, p3_lowcyan, "cyan"), (t3, p3_lowgreen, "green4"), (t3, p3_lowblack, "grey"),
    (t3, p3_cyan, "cyan"), (t3, p3_turquoise, "turquoise"), (t3, p3_blue, "blue"),
    (t3, p3_indigo, "indigo"), (t3, p3_violet, "violet"), (t3, p3_green4, "green4"),
    (t3, p3_orange, "orange"), (t3, p3_magenta, "magenta"), (t3, p3_black, "black"),
    (t3, p3_red, "red"), (t3, p3_blue2, "blue"), (t3, p3_yellow, "yellow"),
    (t3, p3_green, "green"), (t3, p3_navy, "navy"),
]

fig = go.Figure()
for k, panel in enumerate([panel1, panel2, panel3], start=1):
    sfx = "" if k == 1 else str(k)
    for x, y, c in panel:
        fig.add_trace(go.Scatter(x=x, y=y, mode="lines", line=dict(color=C[c], width=1.2),
                                 xaxis="x" + sfx, yaxis="y" + sfx, showlegend=False,
                                 hoverinfo="skip"))

FONT = "Liberation Serif"
tickfont = dict(family=FONT, size=21, color="#222")
base = dict(showline=True, linecolor="#333", linewidth=1.5, mirror="ticks", ticks="inside",
            ticklen=13, tickwidth=1.5, tickcolor="#333", showgrid=False, zeroline=False,
            tickfont=tickfont, fixedrange=True, tickformat="d")

def minor(d):
    return dict(ticks="inside", ticklen=7, tickwidth=1.2, tickcolor="#333", dtick=d, showgrid=False)

layout = dict(
    width=970, height=681, paper_bgcolor="white", plot_bgcolor="white",
    margin=dict(l=74, r=37, t=22, b=57),
    xaxis=dict(base, domain=[0, 1], anchor="y", range=[0, 20000], tick0=0, dtick=5000, minor=minor(2500)),
    yaxis=dict(base, domain=[0.7043, 1], anchor="x", range=[1, 6], tick0=0, dtick=1, minor=minor(0.5)),
    xaxis2=dict(base, domain=[0, 1], anchor="y2", range=[0, 20000], tick0=0, dtick=5000, minor=minor(2500)),
    yaxis2=dict(base, domain=[0.3505, 0.6478], anchor="x2", range=[0.8, 15.6], tick0=0, dtick=2, minor=minor(1)),
    xaxis3=dict(base, domain=[0, 1], anchor="y3", range=[0, 10000], tick0=0, dtick=2000, minor=minor(1000)),
    yaxis3=dict(base, domain=[0, 0.2924], anchor="x3", range=[1.4, 15], tick0=0, dtick=2, minor=minor(1)),
    annotations=[
        dict(text="8W", x=18860, y=5.47, xref="x", yref="y", showarrow=False,
             font=dict(family=FONT, size=21, color="#222")),
        dict(text="18W", x=18930, y=14.28, xref="x2", yref="y2", showarrow=False,
             font=dict(family=FONT, size=21, color="#222")),
        dict(text="27Wa", x=9430, y=12.3, xref="x3", yref="y3", showarrow=False,
             font=dict(family=FONT, size=21, color="#222")),
        dict(text="Ca-O Distances (Å)", x=-0.0617, y=0.495, xref="paper", yref="paper",
             showarrow=False, textangle=-90, xanchor="center", yanchor="middle",
             font=dict(family=FONT, size=21, color="#222")),
        dict(text="Time (fs)", x=0.5, y=-0.073, xref="paper", yref="paper",
             showarrow=False, xanchor="center", yanchor="middle",
             font=dict(family=FONT, size=21, color="#222")),
    ],
)
fig.update_layout(**layout)
fig.write_html("out.html")
